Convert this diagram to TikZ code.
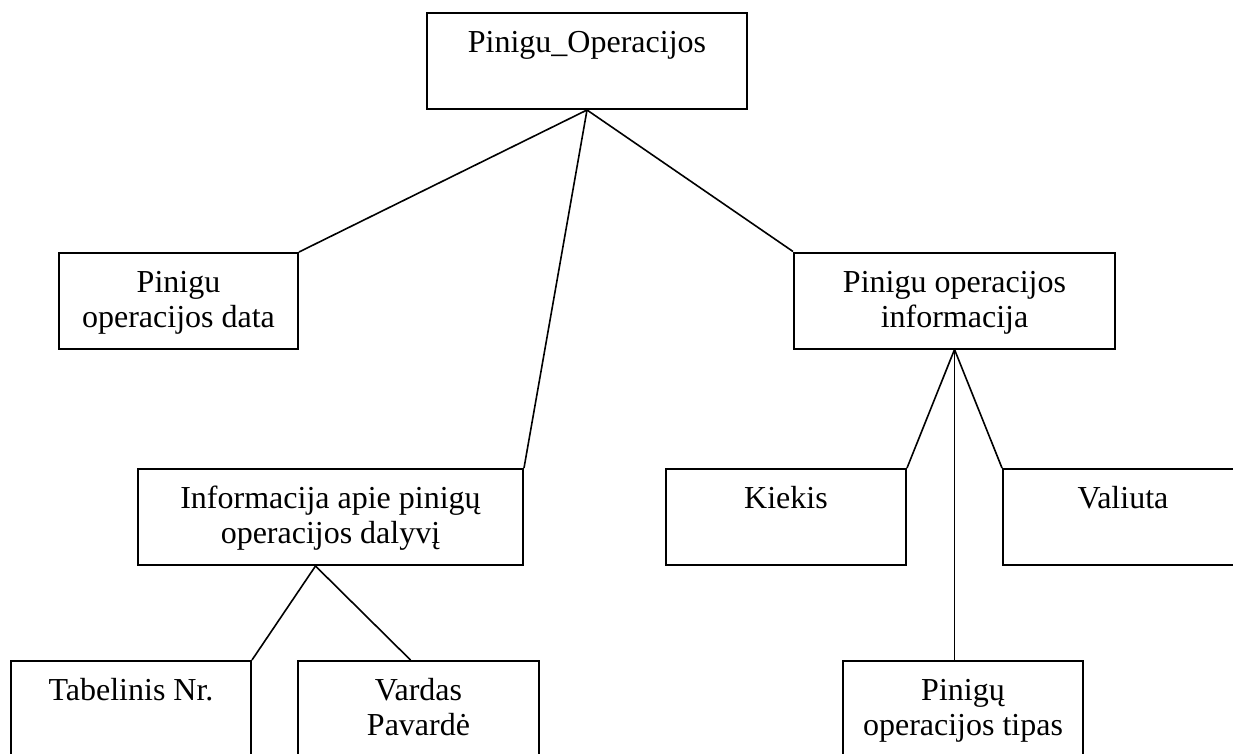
\documentclass[tikz,border=0pt]{standalone}
\usepackage{fontspec}
\setmainfont{Liberation Serif}
\usetikzlibrary{calc}
\newcommand{\bxt}[2]{\parbox[c][96pt][t]{#1}{\centering\vspace*{15pt}\strut #2\strut}}
\tikzset{
  boxnode/.style={draw=black, line width=2pt, inner sep=0pt, fill=white,
    font=\fontsize{32}{35}\selectfont},
  link/.style={draw=black, line width=1.6pt}
}
\begin{document}
\begin{tikzpicture}[x=1pt,y=-1pt]
\clip (0,0) rectangle (1233,753);
\fill[white] (0,0) rectangle (1233,753);
% nodes
\node[boxnode] (top)   at (587,61)    {\bxt{320pt}{Pinigu\_Operacijos}};
\node[boxnode] (data)  at (178.5,301) {\bxt{239pt}{Pinigu\\operacijos data}};
\node[boxnode] (info)  at (954.5,300.5) {\bxt{321pt}{Pinigu operacijos\\informacija}};
\node[boxnode] (dal)   at (330.5,517) {\bxt{385pt}{Informacija apie pinigų\\operacijos dalyvį}};
\node[boxnode] (kiek)  at (786,517)   {\bxt{240pt}{Kiekis}};
\node[boxnode] (val)   at (1123,517)  {\bxt{240pt}{Valiuta}};
\node[boxnode] (tab)   at (131,709)   {\bxt{240pt}{Tabelinis Nr.}};
\node[boxnode] (vard)  at (418.5,709) {\bxt{241pt}{Vardas\\Pavardė}};
\node[boxnode] (tipas) at (963,709)   {\bxt{240pt}{Pinigų\\operacijos tipas}};
% connection points
\coordinate (dalapex) at ($(dal.south)+(-15,0)$);
\coordinate (vardtop) at ($(vard.north)+(-8,0)$);
% connectors
\draw[link] (top.south) -- (data.north east);
\draw[link] (top.south) -- (dal.north east);
\draw[link] (top.south) -- (info.north west);
\draw[link] (info.south) -- (kiek.north east);
\draw[link] (info.south) -- (val.north west);
\draw[link] (info.south) -- (info.south |- tipas.north);
\draw[link] (dalapex) -- (tab.north east);
\draw[link] (dalapex) -- (vardtop);
\end{tikzpicture}
\end{document}
